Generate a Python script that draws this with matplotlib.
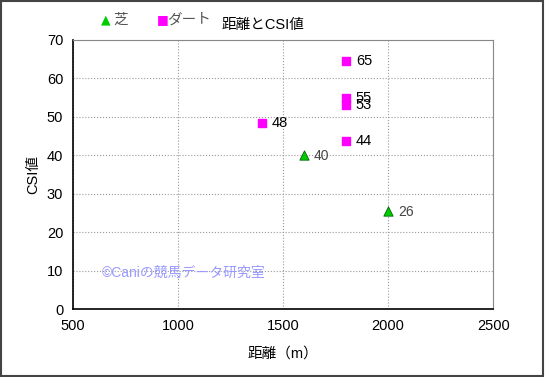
import matplotlib
matplotlib.use("Agg")
import matplotlib.pyplot as plt
from matplotlib.patches import Rectangle

plt.rcParams['font.family'] = ['Liberation Sans', 'Noto Sans CJK JP', 'DejaVu Sans']

# data
turf_dist = [1600, 2000]
turf_csi = [40.2, 25.5]
turf_labels = ['40', '26']
dirt_dist = [1400, 1800, 1800, 1800, 1800]
dirt_csi = [48.3, 64.5, 55.0, 53.0, 43.6]
dirt_labels = ['48', '65', '55', '53', '44']
x_ticks = [500, 1000, 1500, 2000, 2500]
y_ticks = [0, 10, 20, 30, 40, 50, 60, 70]

fig = plt.figure(figsize=(5.45, 3.77), dpi=100)
fig.patches.append(Rectangle((0.002, 0.003), 0.995, 0.994, transform=fig.transFigure,
                             fill=False, edgecolor='#444444', linewidth=1.5))
ax = fig.add_axes([0.134, 0.180, 0.771, 0.714])

ax.scatter(turf_dist, turf_csi, marker='^', s=45, color='#00cc00', edgecolor='#006600',
           linewidth=0.6, zorder=3)
ax.scatter(dirt_dist, dirt_csi, marker='s', s=40, color='#ff00ff', zorder=3)

for x, y, t in zip(turf_dist, turf_csi, turf_labels):
    ax.annotate(t, (x, y), xytext=(7, -1), textcoords='offset points', va='center',
                fontsize=10, color='#444444')
for x, y, t in zip(dirt_dist, dirt_csi, dirt_labels):
    ax.annotate(t, (x, y), xytext=(7, 0), textcoords='offset points', va='center',
                fontsize=10.5, color='black')

ax.set_xlim(500, 2500)
ax.set_ylim(0, 70)
ax.set_xticks(x_ticks)
ax.set_yticks(y_ticks)
ax.tick_params(length=0, labelsize=10.5, pad=7)
ax.grid(True, linestyle=':', color='#999999', linewidth=0.8)
for s in ['top', 'right']:
    ax.spines[s].set_color('#888888')
for s in ['left', 'bottom']:
    ax.spines[s].set_color('black')
    ax.spines[s].set_linewidth(1.2)

ax.set_xlabel('距離（m）', fontsize=10.5, labelpad=10)
ax.set_ylabel('CSI値', fontsize=10.5, labelpad=5)

ax.text(635, 9.5, '©Caniの競馬データ研究室', fontsize=10, color='#9999ff', va='center')

fig.text(0.482, 0.935, '距離とCSI値', fontsize=10.5, ha='center', va='center')
fig.text(0.186, 0.948, '▲', fontsize=9, color='#00cc00', ha='left', va='center',
         family=['DejaVu Sans'])
fig.text(0.208, 0.948, '芝', fontsize=10.5, color='#555555', ha='left', va='center')
fig.text(0.288, 0.948, '■', fontsize=9, color='#ff00ff', ha='left', va='center',
         family=['DejaVu Sans'])
fig.text(0.307, 0.948, 'ダート', fontsize=10.5, color='#555555', ha='left', va='center')

fig.savefig('out.png', dpi=100)
